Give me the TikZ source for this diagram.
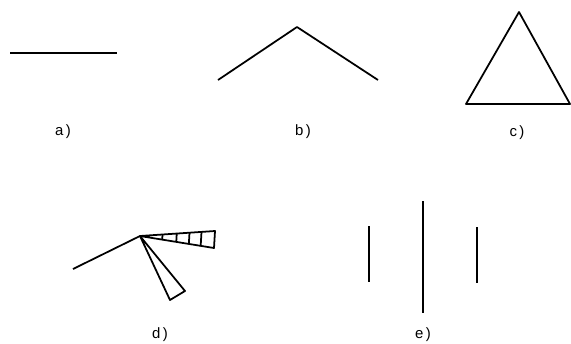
\documentclass[tikz,border=0pt]{standalone}
\usepackage{fontspec}
\setmainfont{Liberation Sans}
\usetikzlibrary{positioning,calc}

\begin{document}
\begin{tikzpicture}[
		x=0.02cm, y=-0.02cm,
		stroke/.style={line width=1pt, line join=round},
		caption/.style={font=\fontsize{8.5}{9}\selectfont, inner sep=0pt}
		]
		
		\useasboundingbox (0,0) rectangle (571,343);
		
		% ======================
		% a) single bar
		% ======================
		\coordinate (a1) at (10,53);
		\coordinate (a2) at (117,53);
		\draw[stroke] (a1) -- (a2);
		\node[caption] (la) at (63,132) {a\,)};
		
		% ======================
		% b) two bars
		% ======================
		\coordinate (b1) at (218,80);
		\coordinate (b2) at (297,27);
		\coordinate (b3) at (378,80);
		\draw[stroke] (b1) -- (b2) -- (b3);
		\node[caption] (lb) at (303,132) {b\,)};
		
		% ======================
		% c) triangle
		% ======================
		\coordinate (c1) at (466,104);
		\coordinate (c2) at (519,12);
		\coordinate (c3) at (570,104);
		\draw[stroke] (c1) -- (c2) -- (c3) -- cycle;
		\node[caption] (lc) at (517,133) {c\,)};
		
		% ======================
		% d) hub with wedges
		% ======================
		\coordinate (hub) at (140,236);
		\coordinate (d1) at (73,269);
		\coordinate (wt) at (215,231);
		\coordinate (wb) at (214,248);
		\coordinate (lt) at (185,291);
		\coordinate (lb2) at (170,300);
		\draw[stroke] (hub) -- (d1);
		\draw[stroke] (hub) -- (wt) -- (wb) -- cycle;
		\foreach \t in {0.3,0.49,0.66,0.82}
			\draw[stroke] ($(hub)!\t!(wt)$) -- ($(hub)!\t!(wb)$);
		\draw[stroke] (hub) -- (lt) -- (lb2) -- cycle;
		\node[caption] (ld) at (160,335) {d\,)};
		
		% ======================
		% e) parallel bars
		% ======================
		\coordinate (e1t) at (369,226);
		\coordinate (e1b) at (369,282);
		\coordinate (e2t) at (423,201);
		\coordinate (e2b) at (423,313);
		\coordinate (e3t) at (477,227);
		\coordinate (e3b) at (477,283);
		\draw[stroke] (e1t) -- (e1b);
		\draw[stroke] (e2t) -- (e2b);
		\draw[stroke] (e3t) -- (e3b);
		\node[caption] (le) at (423,335) {e\,)};
		
	\end{tikzpicture}
\end{document}
